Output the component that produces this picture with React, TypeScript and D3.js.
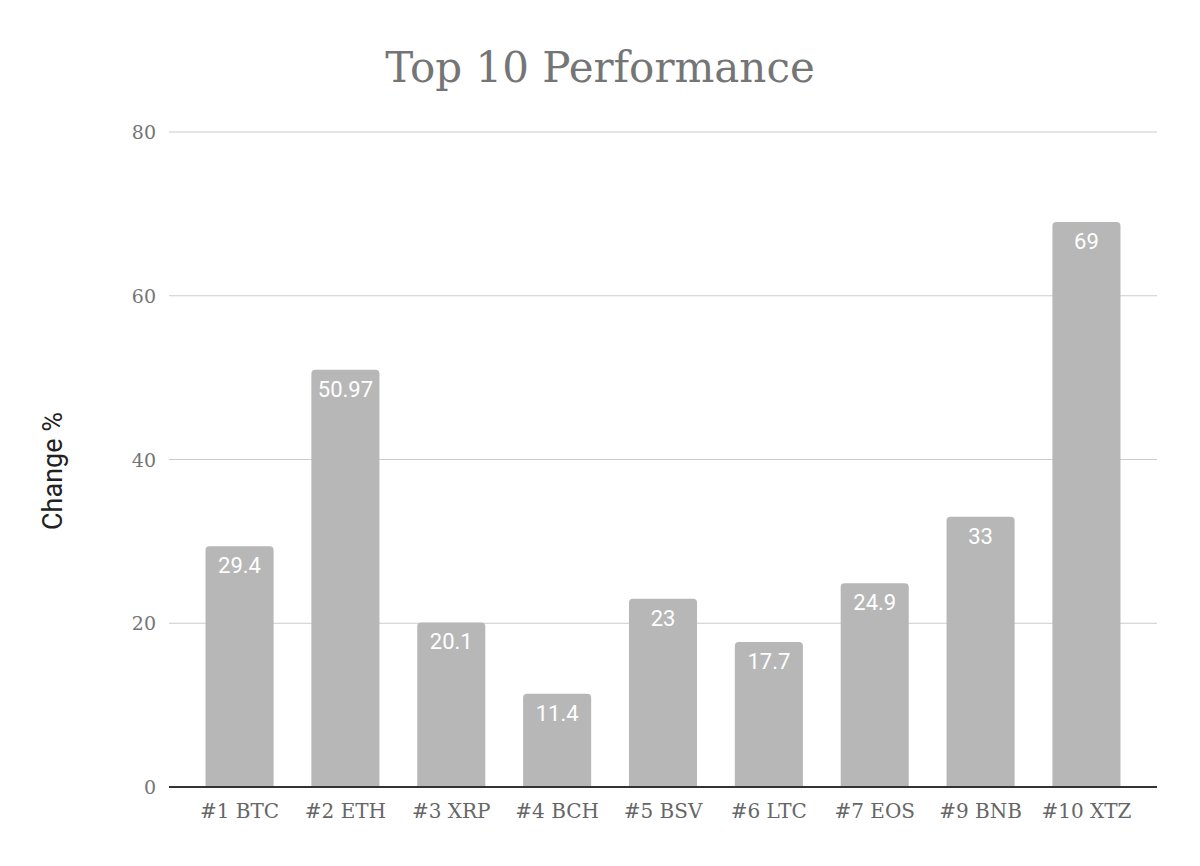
import React from "react";
import * as d3 from "d3";

const categories = ["#1 BTC", "#2 ETH", "#3 XRP", "#4 BCH", "#5 BSV", "#6 LTC", "#7 EOS", "#9 BNB", "#10 XTZ"];
const values = [29.4, 50.97, 20.1, 11.4, 23, 17.7, 24.9, 33, 69];
const yTicks = [0, 20, 40, 60, 80];

const W = 1200;
const H = 866;
const left = 169;
const right = 1157;
const top = 132;
const bottom = 787;

function topRoundedRect(x: number, y: number, w: number, h: number, r: number) {
  const rr = Math.min(r, h, w / 2);
  return `M${x},${y + h}V${y + rr}Q${x},${y} ${x + rr},${y}H${x + w - rr}Q${x + w},${y} ${x + w},${y + rr}V${y + h}Z`;
}

export default function App() {
  const x = d3.scaleBand<string>().domain(categories).range([left, right]).paddingInner(0.357).paddingOuter(0.345);
  const y = d3.scaleLinear().domain([0, 80]).range([bottom, top]);
  const serif = "'DejaVu Serif', serif";
  return (
    <svg width={W} height={H} style={{ position: "absolute", left: 0, top: 0, background: "#fff" }}>
      <rect width={W} height={H} fill="#fff" />
      <text x={600} y={82} textAnchor="middle" fontFamily={serif} fontSize={42} fill="#757575">
        Top 10 Performance
      </text>
      {yTicks.map((t) => (
        <g key={t}>
          {t !== 0 && <line x1={left} x2={right} y1={y(t)} y2={y(t)} stroke="#cccccc" strokeWidth={1} />}
          <text x={156} y={y(t) + 7} textAnchor="end" fontFamily={serif} fontSize={19} fill="#757575">
            {t}
          </text>
        </g>
      ))}
      {categories.map((c, i) => {
        const bx = x(c)!;
        const bw = x.bandwidth();
        const by = y(values[i]);
        return (
          <g key={c}>
            <path d={topRoundedRect(bx, by, bw, bottom - by, 4)} fill="#b7b7b7" />
            <text x={bx + bw / 2} y={by + 27} textAnchor="middle" fontFamily="Roboto, sans-serif" fontSize={22} fill="#ffffff">
              {values[i]}
            </text>
            <text x={bx + bw / 2} y={818} textAnchor="middle" fontFamily={serif} fontSize={20} fill="#666666">
              {c}
            </text>
          </g>
        );
      })}
      <line x1={left} x2={right} y1={bottom} y2={bottom} stroke="#333333" strokeWidth={2} />
      <text transform={`translate(62,471) rotate(-90)`} textAnchor="middle" fontFamily="Roboto, sans-serif" fontSize={27} fill="#222222">
        Change %
      </text>
    </svg>
  );
}
